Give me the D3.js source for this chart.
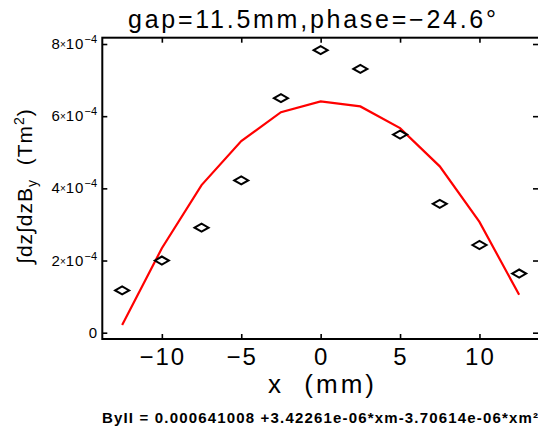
<!DOCTYPE html>
<html>
<head>
<meta charset="utf-8">
<script src="https://cdn.jsdelivr.net/npm/d3@7"></script>
<style>
  body { margin: 0; background: #fff; }
  svg { display: block; font-family: "Liberation Sans", Arial, sans-serif; }
</style>
</head>
<body>
<svg id="chart" width="538" height="428"></svg>
<script>
// ---- data ----
const xPositions = [-12.5, -10, -7.5, -5, -2.5, 0, 2.5, 5, 7.5, 10, 12.5];
const measured   = [1.17e-4, 2.0e-4, 2.91e-4, 4.22e-4, 6.5e-4, 7.83e-4, 7.31e-4, 5.49e-4, 3.57e-4, 2.43e-4, 1.64e-4];
const fitted     = [0.21e-4, 2.34e-4, 4.09e-4, 5.31e-4, 6.11e-4, 6.41e-4, 6.27e-4, 5.67e-4, 4.61e-4, 3.07e-4, 1.05e-4];
const xTicks = [-10, -5, 0, 5, 10];
const xTickLabels = ["\u221210", "\u22125", "0", "5", "10"];
const yTicks = [0, 2e-4, 4e-4, 6e-4, 8e-4];
const yTickMantissa = ["0", "2", "4", "6", "8"];
const titleText = "gap=11.5mm,phase=\u221224.6\u00B0";
const xLabelParts = ["x", "(mm)"];
const fitText = "ByII  =  0.000641008  +3.42261e-06*xm-3.70614e-06*xm\u00B2";

// ---- layout ----
const svg = d3.select("#chart");
const pL = 102.3, pR = 539, pT = 37.7, pB = 339;
const x = d3.scaleLinear().domain([-13.75, 13.75]).range([pL, pR]);
const y = d3.scaleLinear().domain([-0.175e-4, 8.175e-4]).range([pB, pT]);

// frame
svg.append("rect")
  .attr("x", pL).attr("y", pT)
  .attr("width", pR - pL).attr("height", pB - pT)
  .attr("fill", "none").attr("stroke", "#000").attr("stroke-width", 2);

function styleAxis(g) {
  g.select(".domain").remove();
  g.selectAll(".tick line").attr("stroke", "#000").attr("stroke-width", 1.6);
  g.selectAll(".tick text").remove();
}
svg.append("g").attr("transform", `translate(0,${pB})`)
  .call(d3.axisBottom(x).tickValues(xTicks).tickSize(-5).tickSizeOuter(0)).call(styleAxis);
svg.append("g").attr("transform", `translate(0,${pT})`)
  .call(d3.axisTop(x).tickValues(xTicks).tickSize(-5).tickSizeOuter(0)).call(styleAxis);
svg.append("g").attr("transform", `translate(${pL},0)`)
  .call(d3.axisLeft(y).tickValues(yTicks).tickSize(-5).tickSizeOuter(0)).call(styleAxis);
svg.append("g").attr("transform", `translate(${pR - 1},0)`)
  .call(d3.axisRight(y).tickValues(yTicks).tickSize(-5).tickSizeOuter(0)).call(styleAxis);

// x tick labels
svg.append("g").selectAll("text").data(xTicks).join("text")
  .attr("x", d => x(d) + 1).attr("y", 365)
  .attr("text-anchor", "middle")
  .attr("font-size", 24)
  .attr("letter-spacing", 2)
  .text((d, i) => xTickLabels[i]);

// y tick labels
const yl = svg.append("g").selectAll("text").data(yTicks).join("text")
  .attr("x", 97).attr("y", d => y(d) + 5)
  .attr("text-anchor", "end")
  .attr("font-size", 15);
yl.each(function(d, i) {
  const t = d3.select(this);
  if (d === 0) { t.text(yTickMantissa[i]); return; }
  t.append("tspan").text(yTickMantissa[i]);
  t.append("tspan").attr("font-size", 10).attr("dy", -1).text("\u00D7");
  t.append("tspan").attr("dy", 1).attr("letter-spacing", 1).text("10");
  t.append("tspan").attr("font-size", 11).attr("dy", -6).text("\u2212");
  t.append("tspan").attr("font-size", 11).text("4");
});

// fitted curve
const line = d3.line().x((d, i) => x(xPositions[i])).y(d => y(d));
svg.append("path").datum(fitted)
  .attr("d", line)
  .attr("fill", "none").attr("stroke", "#ff0000").attr("stroke-width", 2.2);

// measured diamonds
svg.append("g").selectAll("path").data(measured).join("path")
  .attr("transform", (d, i) => `translate(${x(xPositions[i])},${y(d)})`)
  .attr("d", "M-7,0L0,-4L7,0L0,4Z")
  .attr("fill", "none").attr("stroke", "#000").attr("stroke-width", 2);

// title
svg.append("text")
  .attr("x", 312).attr("y", 28)
  .attr("text-anchor", "middle")
  .attr("font-size", 25)
  .attr("textLength", 368).attr("lengthAdjust", "spacing")
  .text(titleText);

// x label
svg.append("text")
  .attr("x", 268).attr("y", 393)
  .attr("font-size", 26)
  .text(xLabelParts[0]);
svg.append("text")
  .attr("x", 377).attr("y", 393)
  .attr("text-anchor", "end")
  .attr("font-size", 26)
  .attr("letter-spacing", 3)
  .text(xLabelParts[1]);

// y label
const ylab = svg.append("text")
  .attr("transform", "translate(32,186) rotate(-90)")
  .attr("text-anchor", "middle")
  .attr("font-size", 21)
  .attr("letter-spacing", 1);
ylab.append("tspan").text("\u222Bdz\u222BdzB");
ylab.append("tspan").attr("font-size", 14).attr("dy", 5).text("y");
ylab.append("tspan").attr("dy", -5).text("\u00A0\u00A0(Tm");
ylab.append("tspan").attr("font-size", 14).attr("dy", -8).text("2");
ylab.append("tspan").attr("dy", 8).text(")");

// fit formula
svg.append("text")
  .attr("x", 102).attr("y", 423)
  .attr("font-size", 15)
  .attr("font-weight", "bold")
  .attr("textLength", 436).attr("lengthAdjust", "spacing")
  .text(fitText);
</script>
</body>
</html>
